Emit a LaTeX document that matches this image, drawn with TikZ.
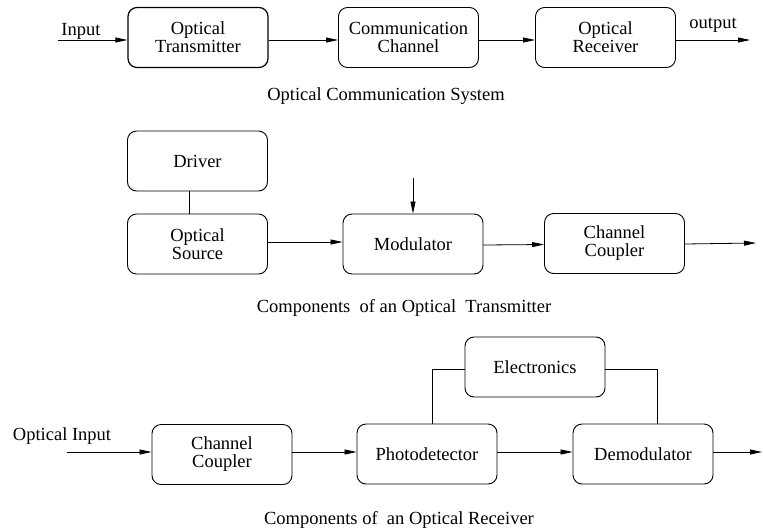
\documentclass[tikz,border=0pt]{standalone}
\usepackage{fontspec}
\setmainfont{LiberationSerif}[Extension=.ttf, UprightFont=*-Regular, BoldFont=*-Bold]
\usetikzlibrary{arrows.meta}
\begin{document}
\begin{tikzpicture}[x=1pt,y=-1pt,
  font=\rmfamily\fontsize{18.5}{20.5}\selectfont,
  block/.style={draw, rounded corners=9pt, line width=0.9pt, minimum width=140pt,
    minimum height=60pt, align=center, inner sep=2pt},
  flow/.style={-{Triangle[length=12pt,width=5pt]}, line width=0.8pt},
  link/.style={line width=0.8pt},
  caption/.style={inner sep=0pt}]
\useasboundingbox (0,0) rectangle (763,528);

% Optical communication system
\node[block, line width=1.2pt] (tx) at (198,37.5) {Optical\\[-2.5pt]Transmitter};
\node[block] (ch) at (408.5,37.5) {Communication\\[-2.5pt]Channel};
\node[block] (rx) at (605.5,37.5) {Optical\\[-2.5pt]Receiver};
\coordinate (in0) at (58,40);
\coordinate (out0) at (750,40);
\node[caption] (inlbl) at (81,31) {Input};
\node[caption] (outlbl) at (713,25) {output};
\draw[flow] (in0) -- (in0 -| tx.west);
\draw[flow] (tx.east |- in0) -- (ch.west |- in0);
\draw[flow] (ch.east |- in0) -- (rx.west |- in0);
\draw[flow] (rx.east |- in0) -- (out0);
\node[caption] (cap1) at (386,96) {Optical Communication System};

% Components of the transmitter
\node[block] (drv) at (197.5,161) {Driver};
\node[block] (src) at (197.5,244) {Optical\\[-2.5pt]Source};
\node[block] (mod) at (413,244) {Modulator};
\node[block] (cc1) at (614.5,243.5) {Channel\\[-2.5pt]Coupler};
\coordinate (modin) at (413,178);
\coordinate (out1) at (756,243);
\draw[link] ([xshift=-8pt]drv.south) -- ([xshift=-8pt]src.north);
\draw[flow] ([yshift=2pt]src.east) -- ([yshift=2pt]mod.west);
\draw[flow] (modin) -- (mod.north);
\draw[flow] ([yshift=-1pt]mod.east) -- ([yshift=-1pt]cc1.west);
\draw[flow] ([yshift=-0.5pt]cc1.east) -- (out1);
\node[caption] (cap2) at (404,308) {Components\ \ of an Optical\ \ Transmitter};

% Components of the receiver
\node[block] (elec) at (535,367) {Electronics};
\node[block] (cc2) at (222,454.5) {Channel\\[-2.5pt]Coupler};
\node[block] (pd) at (427,454) {Photodetector};
\node[block] (dem) at (643,454) {Demodulator};
\coordinate (in2) at (67,452);
\coordinate (out2) at (762,452);
\node[caption] (inlbl2) at (62,436) {Optical Input};
\draw[flow] (in2) -- (in2 -| cc2.west);
\draw[flow] (cc2.east |- in2) -- (pd.west |- in2);
\draw[flow] (pd.east |- in2) -- (dem.west |- in2);
\draw[flow] (dem.east |- in2) -- (out2);
\draw[link] ([yshift=-2pt]elec.west) -| ([xshift=5pt]pd.north);
\draw[link] ([yshift=-2pt]elec.east) -| ([xshift=14pt]dem.north);
\node[caption] (cap3) at (399,520) {Components of\ \ an Optical Receiver};
\end{tikzpicture}
\end{document}
